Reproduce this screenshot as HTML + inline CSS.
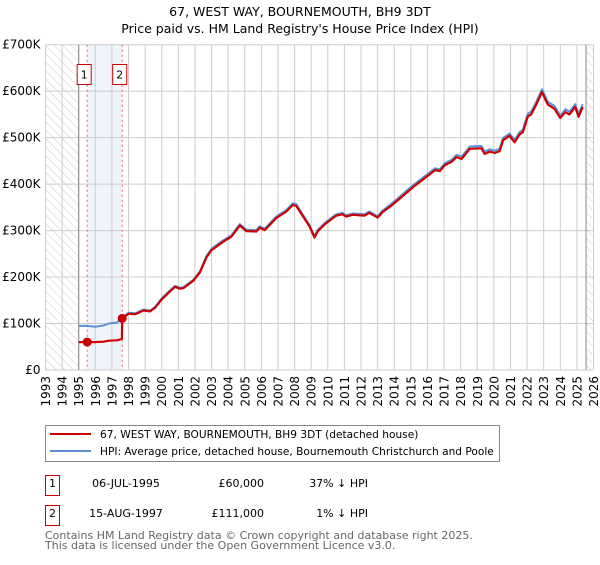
<!DOCTYPE html>
<html><head><meta charset="utf-8"><style>
body{margin:0;background:#fff;font-family:"Liberation Sans","DejaVu Sans",sans-serif;}
svg text{font-family:"DejaVu Sans","Liberation Sans",sans-serif;}
</style></head><body>
<svg id="c" width="600" height="560" xmlns="http://www.w3.org/2000/svg">
<defs><pattern id="hatch" width="6" height="6" patternUnits="userSpaceOnUse" patternTransform="rotate(-45)"><line x1="0" y1="0" x2="0" y2="6" stroke="#ccc" stroke-width="1"/></pattern></defs>
<text x="300" y="16" text-anchor="middle" font-size="12.5">67, WEST WAY, BOURNEMOUTH, BH9 3DT</text>
<text x="300" y="33" text-anchor="middle" font-size="12.5">Price paid vs. HM Land Registry's House Price Index (HPI)</text>
<g id="plot"></g>
<g>
<rect x="45.5" y="425.5" width="454" height="36" fill="#fff" stroke="#888"/>
<line x1="50" y1="434" x2="91" y2="434" stroke="#cc0000" stroke-width="2"/>
<text x="100" y="438" font-size="10.6">67, WEST WAY, BOURNEMOUTH, BH9 3DT (detached house)</text>
<line x1="50" y1="451" x2="91" y2="451" stroke="#5b8fd4" stroke-width="2"/>
<text x="100" y="455" font-size="10.6">HPI: Average price, detached house, Bournemouth Christchurch and Poole</text>
</g>
<g font-size="11">
<rect x="45.5" y="475.5" width="14" height="20" fill="#fff" stroke="#cc0000"/>
<text x="52.5" y="487" text-anchor="middle">1</text>
<text x="126" y="487" text-anchor="middle">06-JUL-1995</text>
<text x="264" y="487" text-anchor="end">£60,000</text>
<text x="368" y="487" text-anchor="end">37% ↓ HPI</text>
</g>
<g font-size="11">
<rect x="45.5" y="505.5" width="14" height="20" fill="#fff" stroke="#cc0000"/>
<text x="52.5" y="517" text-anchor="middle">2</text>
<text x="126" y="517" text-anchor="middle">15-AUG-1997</text>
<text x="264" y="517" text-anchor="end">£111,000</text>
<text x="368" y="517" text-anchor="end">1% ↓ HPI</text>
</g>
<text x="45" y="539" font-size="11" fill="#666">Contains HM Land Registry data © Crown copyright and database right 2025.</text>
<text x="45" y="549" font-size="11" fill="#666">This data is licensed under the Open Government Licence v3.0.</text>
</svg>
<script>
const yTicks=[0,100,200,300,400,500,600,700];
const yTickLabels=["£0","£100K","£200K","£300K","£400K","£500K","£600K","£700K"];
const xYears=[1993,1994,1995,1996,1997,1998,1999,2000,2001,2002,2003,2004,2005,2006,2007,2008,2009,2010,2011,2012,2013,2014,2015,2016,2017,2018,2019,2020,2021,2022,2023,2024,2025,2026];
const hpiYears=[1995.0,1995.5,1996.0,1996.5,1996.8,1997.3,1997.62,1998.0,1998.4,1998.9,1999.3,1999.6,2000.0,2000.4,2000.8,2001.1,2001.3,2001.9,2002.3,2002.7,2003.0,2003.7,2004.2,2004.7,2005.1,2005.7,2005.9,2006.2,2006.9,2007.5,2007.9,2008.1,2008.9,2009.2,2009.4,2009.9,2010.5,2010.9,2011.1,2011.5,2012.2,2012.5,2013.0,2013.3,2013.8,2014.4,2015.15,2015.95,2016.45,2016.75,2017.05,2017.45,2017.75,2018.05,2018.55,2019.25,2019.45,2019.75,2020.05,2020.35,2020.55,2020.95,2021.25,2021.55,2021.75,2022.05,2022.25,2022.55,2022.9,2023.25,2023.65,2024.0,2024.3,2024.55,2024.9,2025.1,2025.35];
const hpiValues=[95,95,93,96,100,102,112,123,122,130,128,136,154,168,181,177,178,194,212,246,261,279,290,314,302,301,309,304,330,344,359,357,312,288,302,319,335,338,333,337,335,341,331,343,357,375,398,420,434,432,445,452,463,459,481,482,470,475,472,476,499,509,495,512,517,552,556,577,604,577,568,547,561,556,572,551,572];
const priceYears=[1995.0,1995.51,1996.0,1996.5,1996.8,1997.3,1997.6,1997.62,1998.0,1998.4,1998.9,1999.3,1999.6,2000.0,2000.4,2000.8,2001.1,2001.3,2001.9,2002.3,2002.7,2003.0,2003.7,2004.2,2004.7,2005.1,2005.7,2005.9,2006.2,2006.9,2007.5,2007.9,2008.1,2008.9,2009.2,2009.4,2009.9,2010.5,2010.9,2011.1,2011.5,2012.2,2012.5,2013.0,2013.3,2013.8,2014.4,2015.15,2015.95,2016.45,2016.75,2017.05,2017.45,2017.75,2018.05,2018.55,2019.25,2019.45,2019.75,2020.05,2020.35,2020.55,2020.95,2021.25,2021.55,2021.75,2022.05,2022.25,2022.55,2022.9,2023.25,2023.65,2024.0,2024.3,2024.55,2024.9,2025.1,2025.35];
const priceValues=[60,60,60,61,63,64,67,111,121,120,128,126,134,152,166,179,175,176,192,210,243,258,276,287,311,299,298,306,301,327,341,355,353,309,285,299,316,332,335,330,334,332,338,328,340,353,371,394,416,430,428,441,448,458,454,476,477,465,470,467,471,494,504,490,507,512,546,550,571,598,571,562,542,555,550,566,545,566];
const saleYears=[1995.51,1997.62];
const saleValues=[60,111];
const saleLabels=["1","2"];

const NS="http://www.w3.org/2000/svg";
const L=45.5,R=593.5,T=44.7,B=370;
const X=y=>L+(y-1993)/(2026-1993)*(R-L);
const Y=v=>B-v/700*(B-T);
const g=document.getElementById('plot');
function mk(tag,attrs,parent){const e=document.createElementNS(NS,tag);for(const k in attrs)e.setAttribute(k,attrs[k]);(parent||g).appendChild(e);return e;}

let e;
e=mk('rect',{x:L,y:T,width:X(1995)-L,height:B-T,fill:'url(#hatch)'});


e=mk('rect',{x:X(2025.55),y:T,width:R-X(2025.55),height:B-T,fill:'url(#hatch)'});


e=mk('rect',{x:X(saleYears[0]),y:T,width:X(saleYears[1])-X(saleYears[0]),height:B-T,fill:'#eef3fc'});



yTicks.forEach((v,i)=>{
  e=mk('line',{x1:L,x2:R,y1:Y(v),y2:Y(v),stroke:'#ccc','stroke-width':1});
  
  
  e=mk('text',{x:L-5,y:Y(v)+4,'text-anchor':'end','font-size':12});
  e.textContent=yTickLabels[i];
  
  
});
xYears.forEach(yr=>{
  e=mk('line',{x1:X(yr),x2:X(yr),y1:T,y2:B,stroke:'#ccc','stroke-width':1});
  
  
  e=mk('text',{x:0,y:0,'text-anchor':'end','font-size':12,transform:`translate(${X(yr)+4.5},376) rotate(-90)`});
  e.textContent=yr;
  
  
});
e=mk('line',{x1:X(1995),x2:X(1995),y1:T,y2:B,stroke:'#888','stroke-width':1});


e=mk('line',{x1:X(2025.55),x2:X(2025.55),y1:T,y2:B,stroke:'#888','stroke-width':1});



saleYears.forEach((yr,i)=>{
  e=mk('line',{x1:X(yr),x2:X(yr),y1:T,y2:B,stroke:'#f06060','stroke-width':1,'stroke-dasharray':'2,3'});
  
  
  const cx=X(yr)-(i===0?3:2.5);
  e=mk('rect',{x:cx-7,y:64.5,width:14,height:20,fill:'#fff',stroke:'#cc0000'});
  
  
  e=mk('text',{x:cx,y:78.5,'text-anchor':'middle','font-size':11});
  e.textContent=saleLabels[i];
  
  
});

const path=(xs,vs)=>xs.map((x,i)=>(i?'L':'M')+X(x).toFixed(1)+','+Y(vs[i]).toFixed(1)).join('');
e=mk('path',{d:path(hpiYears,hpiValues),fill:'none',stroke:'#5b8fd4','stroke-width':2,'stroke-linejoin':'round'});


e=mk('path',{d:path(priceYears,priceValues),fill:'none',stroke:'#cc0000','stroke-width':2.2,'stroke-linejoin':'round'});


saleYears.forEach((yr,i)=>{
  e=mk('circle',{cx:X(yr),cy:Y(saleValues[i]),r:4.5,fill:'#cc0000'});
  
  
});
</script>
</body></html>
